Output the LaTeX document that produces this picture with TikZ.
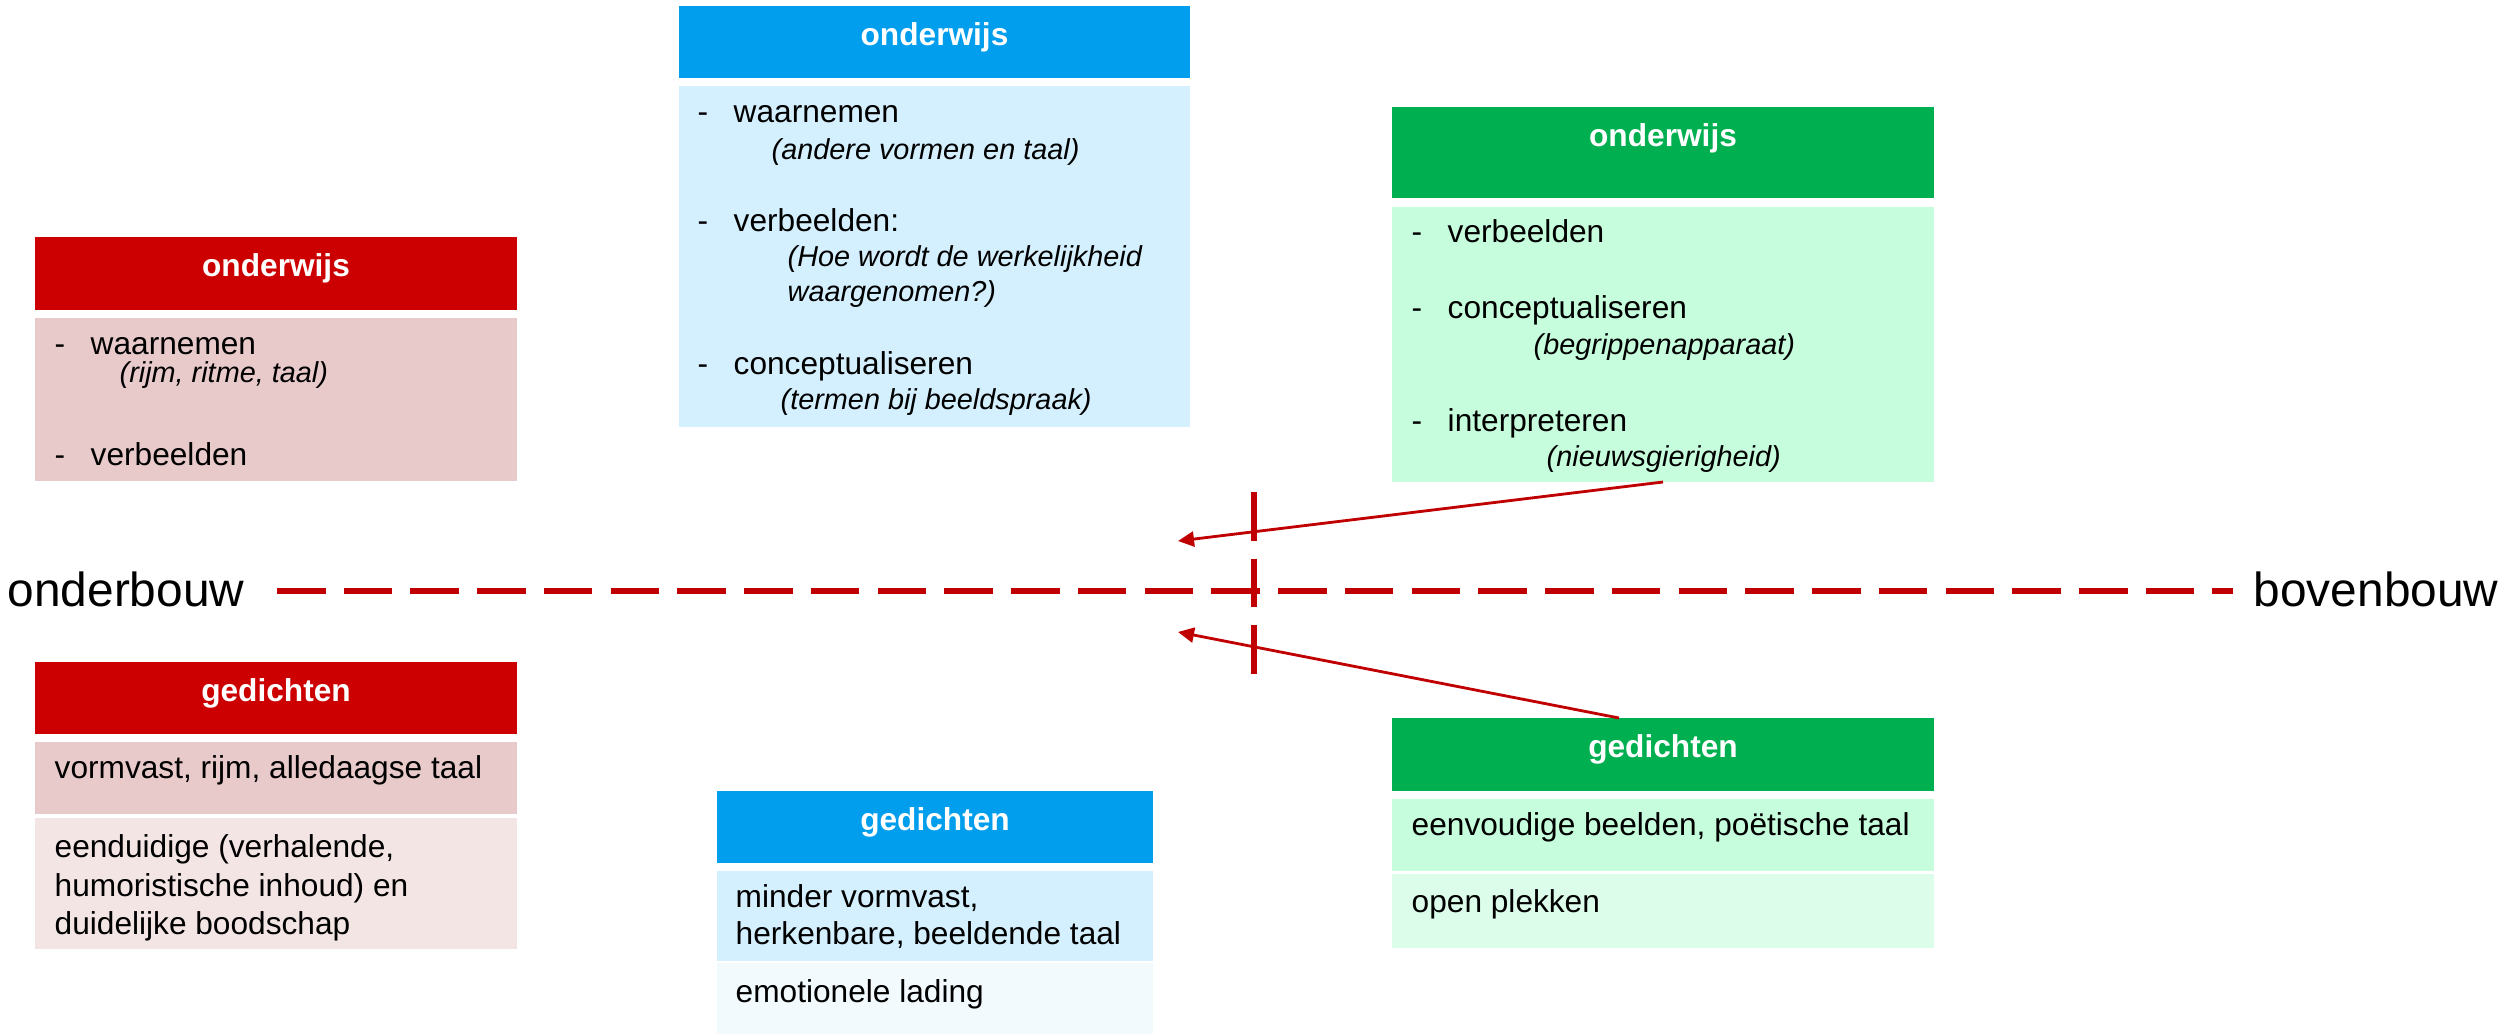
\documentclass[tikz,border=0pt]{standalone}
\usepackage{fontspec}
\setmainfont{Liberation Sans}
\usepackage{xcolor}
\usetikzlibrary{arrows.meta, fit, calc}
\definecolor{roodkop}{HTML}{CC0000}
\definecolor{roodlicht}{HTML}{E9CACA}
\definecolor{roodbleek}{HTML}{F4E5E5}
\definecolor{blauwkop}{HTML}{009EEC}
\definecolor{blauwlicht}{HTML}{D4EFFD}
\definecolor{blauwbleek}{HTML}{F3FAFE}
\definecolor{groenkop}{HTML}{00AF50}
\definecolor{groenlicht}{HTML}{C6FDDC}
\definecolor{groenbleek}{HTML}{DCFDEA}
\definecolor{lijnrood}{HTML}{C00000}
\newcommand\Cel[6]{%
\node[cel,fill=#6,fit={(#2,#3) (#4,#5)}] (#1) {};
}
\newcommand\Kop[7]{%
\Cel{#1}{#2}{#3}{#4}{#5}{#6}
\node[koptekst] (#1-t) at ([yshift=-0.39cm]#1.north) {#7};
}
\newcommand\Punt[4]{%
\node[regel] (#1) at (#2,#3) {\makebox[0.36cm][l]{-}#4};
}
\newcommand\Uitleg[4]{%
\node[uitleg] (#1) at (#2,#3) {#4};
}
\newcommand\Tekst[4]{%
\node[regel] (#1) at (#2,#3) {#4};
}

\begin{document}
\begin{tikzpicture}[x=0.01cm,y=-0.01cm,
  cel/.style={inner sep=0pt,outer sep=0pt,rectangle},
  koptekst/.style={anchor=base,inner sep=0pt,text=white,font=\fontsize{9}{10.8}\selectfont\bfseries},
  regel/.style={anchor=base west,inner sep=0pt,font=\fontsize{9}{10.8}\selectfont},
  uitleg/.style={regel,font=\fontsize{8.2}{9.8}\selectfont\itshape},
  as/.style={anchor=base west,inner sep=0pt,font=\fontsize{13.6}{16}\selectfont},
  streep/.style={lijnrood,line width=1.7pt,dash pattern=on 0.485cm off 0.182cm},
  pijl/.style={lijnrood,line width=0.8pt,-{Triangle[length=0.16cm,width=0.15cm]}}]
  \useasboundingbox (0,0) rectangle (2512,1034);

  % onderbouw (rood)
  \Kop{ob-ow}{35}{237}{517}{310}{roodkop}{onderwijs}
  \Cel{ob-ow-b}{35}{318}{517}{481}{roodlicht}
  \Punt{ob-ow-1}{54}{355}{waarnemen}
  \Uitleg{ob-ow-1a}{119}{383}{(rijm, ritme, taal)}
  \Punt{ob-ow-2}{54}{466}{verbeelden}

  \Kop{ob-ge}{35}{662}{517}{734}{roodkop}{gedichten}
  \Cel{ob-ge-1}{35}{742}{517}{814}{roodlicht}
  \Cel{ob-ge-2}{35}{818}{517}{949}{roodbleek}
  \Tekst{ob-ge-1t}{54}{778}{vormvast, rijm, alledaagse taal}
  \Tekst{ob-ge-2a}{54}{857}{eenduidige (verhalende,}
  \Tekst{ob-ge-2b}{54}{896}{humoristische inhoud) en}
  \Tekst{ob-ge-2c}{54}{934}{duidelijke boodschap}

  % middenbouw (blauw)
  \Kop{mb-ow}{679}{6}{1190}{78}{blauwkop}{onderwijs}
  \Cel{mb-ow-b}{679}{86}{1190}{427}{blauwlicht}
  \Punt{mb-ow-1}{697}{123}{waarnemen}
  \Uitleg{mb-ow-1a}{771}{160}{(andere vormen en taal)}
  \Punt{mb-ow-2}{697}{232}{verbeelden:}
  \Uitleg{mb-ow-2a}{787}{267}{(Hoe wordt de werkelijkheid}
  \Uitleg{mb-ow-2b}{787}{302}{waargenomen?)}
  \Punt{mb-ow-3}{697}{375}{conceptualiseren}
  \Uitleg{mb-ow-3a}{780}{410}{(termen bij beeldspraak)}

  \Kop{mb-ge}{717}{791}{1153}{863}{blauwkop}{gedichten}
  \Cel{mb-ge-1}{717}{871}{1153}{961}{blauwlicht}
  \Cel{mb-ge-2}{717}{963}{1153}{1034}{blauwbleek}
  \Tekst{mb-ge-1a}{735}{907}{minder vormvast,}
  \Tekst{mb-ge-1b}{735}{944}{herkenbare, beeldende taal}
  \Tekst{mb-ge-2t}{735}{1002}{emotionele lading}

  % bovenbouw (groen)
  \Kop{bb-ow}{1392}{107}{1934}{198}{groenkop}{onderwijs}
  \Cel{bb-ow-b}{1392}{207}{1934}{482}{groenlicht}
  \Punt{bb-ow-1}{1411}{243}{verbeelden}
  \Punt{bb-ow-2}{1411}{319}{conceptualiseren}
  \Uitleg{bb-ow-2a}{1533}{355}{(begrippenapparaat)}
  \Punt{bb-ow-3}{1411}{432}{interpreteren}
  \Uitleg{bb-ow-3a}{1546}{467}{(nieuwsgierigheid)}

  \Kop{bb-ge}{1392}{718}{1934}{791}{groenkop}{gedichten}
  \Cel{bb-ge-1}{1392}{799}{1934}{871}{groenlicht}
  \Cel{bb-ge-2}{1392}{874}{1934}{948}{groenbleek}
  \Tekst{bb-ge-1t}{1411}{835}{eenvoudige beelden, poëtische taal}
  \Tekst{bb-ge-2t}{1411}{912}{open plekken}

  % as
  \node[as] (onderbouw) at (7,607) {onderbouw};
  \node[as] (bovenbouw) at (2253,607) {bovenbouw};
  \coordinate (lijnL) at (277,591);
  \coordinate (lijnR) at (2233,591);
  \draw[streep] (lijnL) -- (lijnR);
  \coordinate (grensT) at (1254,492);
  \coordinate (grensB) at (1254,674);
  \draw[streep,line width=1.5pt] (grensT) -- (grensB);

  \coordinate (doel1) at (1178,541);
  \coordinate (doel2) at (1178,632);
  \draw[pijl] (bb-ow-b.south) -- (doel1);
  \draw[pijl] ([xshift=-0.44cm]bb-ge.north) -- (doel2);
\end{tikzpicture}
\end{document}
